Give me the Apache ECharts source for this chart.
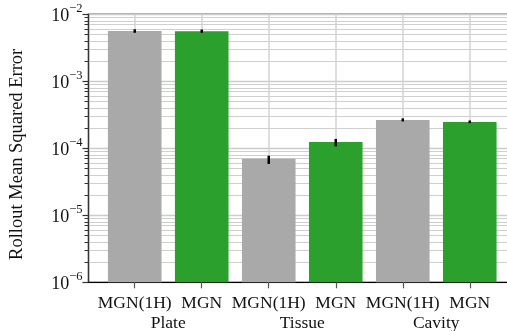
<!DOCTYPE html>
<html>
<head>
<meta charset="utf-8">
<script src="https://cdn.jsdelivr.net/npm/echarts@6/dist/echarts.min.js"></script>
<style>
html,body{margin:0;padding:0;background:#fff;}
#chart{width:507px;height:331px;}
</style>
</head>
<body>
<div id="chart"></div>
<script>
// ---- data ----
const categories = ['MGN(1H)', 'MGN', 'MGN(1H)', 'MGN', 'MGN(1H)', 'MGN'];
const groups = ['Plate', 'Tissue', 'Cavity'];
const methods = ['MGN(1H)', 'MGN', 'MGN(1H)', 'MGN', 'MGN(1H)', 'MGN'];
const values = [5.63e-3, 5.60e-3, 7.0e-5, 1.24e-4, 2.64e-4, 2.47e-4];
const errLow = [5.30e-3, 5.28e-3, 5.85e-5, 1.07e-4, 2.52e-4, 2.37e-4];
const errHigh = [5.97e-3, 5.93e-3, 7.75e-5, 1.38e-4, 2.80e-4, 2.60e-4];
const yTicks = [1e-6, 1e-5, 1e-4, 1e-3, 1e-2];
const yTickLabels = ['−6', '−5', '−4', '−3', '−2'];

// ---- styling ----
const colorOf = { 'MGN(1H)': '#a9a9a9', 'MGN': '#2ca02c' };
const FONT = "'Liberation Serif', 'DejaVu Serif', serif";
const minorTicks = [];
for (let d = 0; d < yTicks.length - 1; d++) {
  for (let m = 2; m <= 9; m++) minorTicks.push(+(m * yTicks[d]).toPrecision(3));
}
const catPos = categories.map((c, i) => i);
const groupPos = groups.map((g, i) => 2 * i + 0.5);

const chart = echarts.init(document.getElementById('chart'), null, { renderer: 'canvas' });
chart.setOption({
  animation: false,
  backgroundColor: '#fff',
  grid: {
    left: 88.5, top: 14.3, width: 427.5, height: 268,
    show: true, borderColor: '#5a5a5a', borderWidth: 1.5,
    containLabel: false, outerBoundsMode: 'none'
  },
  xAxis: [
    {
      type: 'value', position: 'bottom', min: -0.69, max: 5.69,
      axisLine: { show: true, onZero: false, lineStyle: { color: '#000', width: 1.2 } },
      axisTick: { show: true, customValues: catPos, length: 6, lineStyle: { color: '#555', width: 1.2 } },
      axisLabel: {
        customValues: catPos, margin: 12, color: '#111', fontFamily: FONT, fontSize: 17.5,
        formatter: v => categories[Math.round(v)]
      },
      splitLine: { show: true, lineStyle: { color: '#d3d3d3', width: 1.5 } }
    },
    {
      type: 'value', position: 'bottom', min: -0.69, max: 5.69,
      axisLine: { show: false, onZero: false }, axisTick: { show: false },
      axisLabel: {
        customValues: groupPos, margin: 32, color: '#111', fontFamily: FONT, fontSize: 17.5,
        formatter: v => groups[Math.round((v - 0.5) / 2)]
      },
      splitLine: { show: false }
    }
  ],
  yAxis: [
    {
      type: 'log', position: 'left', min: 1e-6, max: 1e-2, logBase: 10, startValue: 1e-6,
      name: 'Rollout Mean Squared Error', nameLocation: 'middle', nameGap: 62, nameRotate: 90,
      nameTextStyle: { color: '#111', fontFamily: FONT, fontSize: 18.5, padding: [0, 12, 0, 0] },
      axisLine: { show: true, onZero: false, lineStyle: { color: '#333', width: 1.2 } },
      axisTick: { show: true, customValues: yTicks, length: 6, lineStyle: { color: '#333', width: 1.2 } },
      axisLabel: {
        customValues: yTicks, margin: 6, color: '#111',
        formatter: v => {
          const i = yTicks.findIndex(t => Math.abs(Math.log10(t) - Math.log10(v)) < 1e-6);
          return '{b|10}{s|' + yTickLabels[i] + '}';
        },
        rich: {
          b: { fontFamily: FONT, fontSize: 18, color: '#111', verticalAlign: 'bottom', lineHeight: 22 },
          s: { fontFamily: FONT, fontSize: 12.5, color: '#111', verticalAlign: 'bottom', lineHeight: 12, padding: [0, 0, 10, 0] }
        }
      },
      splitLine: { show: true, lineStyle: { color: '#cccccc', width: 1.4 } }
    },
    {
      type: 'log', position: 'left', min: 1e-6, max: 1e-2, logBase: 10,
      axisLine: { show: false, onZero: false },
      axisTick: { show: true, customValues: minorTicks, length: 4, lineStyle: { color: '#333', width: 1 } },
      axisLabel: { show: false },
      splitLine: { show: true, lineStyle: { color: '#cfcfcf', width: 1 } }
    }
  ],
  series: [
    {
      type: 'bar', xAxisIndex: 0, yAxisIndex: 0, barWidth: 53.6,
      data: values.map((v, i) => ({ value: [i, v], itemStyle: { color: colorOf[methods[i]] } })),
      z: 3
    },
    {
      type: 'custom', xAxisIndex: 0, yAxisIndex: 0, z: 5,
      encode: { x: 0, y: [1, 2] },
      data: values.map((v, i) => [i, errLow[i], errHigh[i]]),
      renderItem: (params, api) => {
        const x = api.value(0);
        const p1 = api.coord([x, api.value(1)]);
        const p2 = api.coord([x, api.value(2)]);
        return {
          type: 'line',
          shape: { x1: p1[0], y1: p1[1], x2: p2[0], y2: p2[1] },
          style: { stroke: '#000', lineWidth: 2.5 }
        };
      }
    }
  ]
});
</script>
</body>
</html>
